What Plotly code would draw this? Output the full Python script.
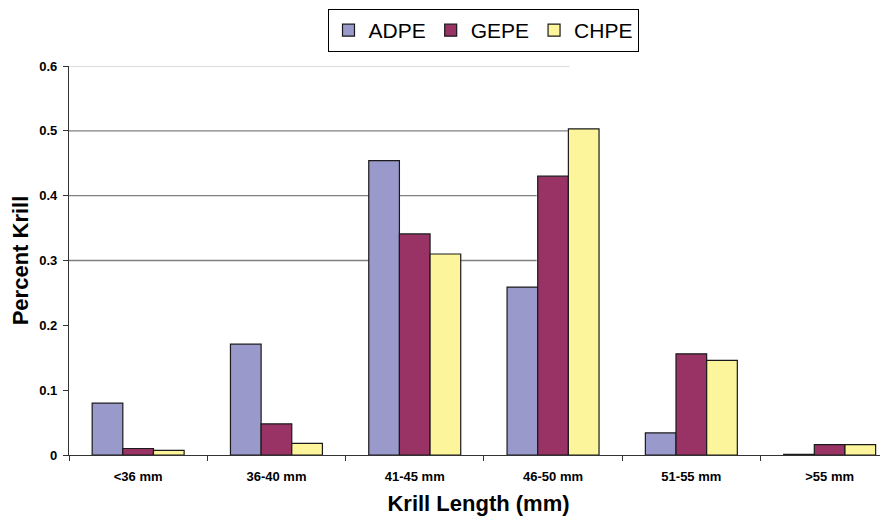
import plotly.graph_objects as go

categories = ["<36 mm", "36-40 mm", "41-45 mm", "46-50 mm", "51-55 mm", ">55 mm"]
adpe = [0.080, 0.171, 0.454, 0.259, 0.034, 0.001]
gepe = [0.010, 0.048, 0.341, 0.430, 0.156, 0.016]
chpe = [0.007, 0.018, 0.310, 0.503, 0.146, 0.016]
series_names = ["ADPE", "GEPE", "CHPE"]
colors = ["#9999CC", "#993366", "#FCF59B"]
y_ticks = [0, 0.1, 0.2, 0.3, 0.4, 0.5, 0.6]
y_tick_text = ["0", "0.1", "0.2", "0.3", "0.4", "0.5", "0.6"]
grid_values = [0.3, 0.4, 0.5, 0.6]
grid_ends = [0.571, 0.571, 0.609, 0.611]
grid_colors = ["#808080", "#808080", "#808080", "#D0D0D0"]

FONT = "Arial, Liberation Sans, sans-serif"

fig = go.Figure()
for name, vals, col in zip(series_names, [adpe, gepe, chpe], colors):
    fig.add_trace(go.Bar(
        x=categories, y=vals, name=name,
        marker=dict(color=col, line=dict(color="#1a1a1a", width=1.2)),
    ))

shapes = []
for gv, ge, gc in zip(grid_values, grid_ends, grid_colors):
    shapes.append(dict(type="line", xref="paper", yref="y", x0=0, x1=ge, y0=gv, y1=gv,
                       line=dict(color=gc, width=1.3), layer="below"))

fig.update_layout(
    width=880, height=511,
    margin=dict(l=61, r=0, t=58, b=64, autoexpand=False),
    paper_bgcolor="white", plot_bgcolor="white",
    font=dict(family=FONT, color="black"),
    barmode="group", bargap=0.335, bargroupgap=0,
    shapes=shapes,
    showlegend=True,
    legend=dict(orientation="h", x=0.5055, xanchor="center", y=1.1465, yanchor="top",
                bordercolor="black", borderwidth=1, font=dict(size=21, family=FONT),
                itemwidth=30, traceorder="normal", bgcolor="white",
                tracegroupgap=0),
    xaxis=dict(range=[-0.5, 5.422], showgrid=False, showline=True, linecolor="#333333", linewidth=1.3,
               ticks="outside", ticklen=5, tickcolor="#333333", tickson="boundaries",
               automargin=False, ticklabelstandoff=9,
               tickfont=dict(size=13, family=FONT, weight="bold"),
               title=dict(text="Krill Length (mm)", font=dict(size=22, family=FONT, weight="bold"), standoff=12)),
    yaxis=dict(range=[0, 0.6], tickvals=y_ticks, ticktext=y_tick_text, showgrid=False,
               showline=True, linecolor="#333333", linewidth=1.3, zeroline=False,
               ticks="outside", ticklen=5, tickcolor="#333333", automargin=False,
               ticklabelstandoff=3,
               tickfont=dict(size=13, family=FONT, weight="bold"),
               title=dict(text="Percent Krill", font=dict(size=22, family=FONT, weight="bold"), standoff=24)),
)

fig.write_html("out.html")
